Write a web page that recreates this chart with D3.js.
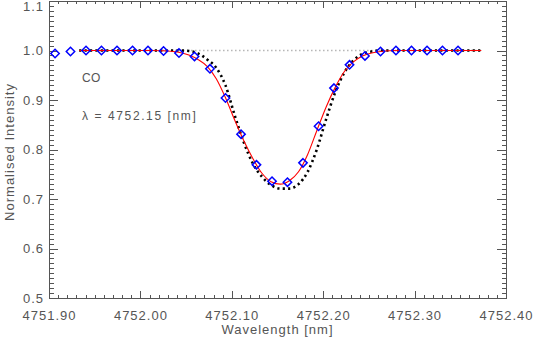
<!DOCTYPE html>
<html>
<head>
<meta charset="utf-8">
<script src="https://cdn.jsdelivr.net/npm/d3@7"></script>
<style>
body { margin: 0; background: #fff; }
svg { display: block; }
text { font-family: "Liberation Sans", Arial, sans-serif; fill: #555; }
</style>
</head>
<body>
<svg id="chart" width="534" height="340"></svg>
<script>
// observed points (blue diamonds)
var obsWave = [4751.9066, 4751.9235, 4751.9405, 4751.9574, 4751.9744, 4751.9914, 4752.0083,
    4752.0253, 4752.0422, 4752.0592, 4752.0761, 4752.0931, 4752.1101, 4752.1270, 4752.1440,
    4752.1609, 4752.1779, 4752.1949, 4752.2118, 4752.2288, 4752.2457, 4752.2627, 4752.2796,
    4752.2966, 4752.3136, 4752.3305, 4752.3475];
var obsInt = [0.994, 0.998, 1.000, 1.000, 1.000, 1.000, 1.000,
    0.999, 0.995, 0.988, 0.963, 0.904, 0.831, 0.769, 0.736,
    0.734, 0.773, 0.847, 0.924, 0.971, 0.989, 0.998, 1.000,
    1.000, 1.000, 1.000, 1.000];

// fitted profile (red) and model profile (black dotted)
var profWave = [4751.933, 4751.943, 4751.953, 4751.963, 4751.973, 4751.983, 4751.993, 4752.003,
    4752.013, 4752.023, 4752.033, 4752.043, 4752.053, 4752.063, 4752.073, 4752.083,
    4752.093, 4752.103, 4752.113, 4752.123, 4752.133, 4752.143, 4752.153, 4752.163,
    4752.173, 4752.183, 4752.193, 4752.203, 4752.213, 4752.223, 4752.233, 4752.243,
    4752.253, 4752.263, 4752.273, 4752.283, 4752.293, 4752.303, 4752.313, 4752.323,
    4752.333, 4752.343, 4752.353, 4752.363, 4752.373];
var fitInt = [1.000, 1.000, 1.000, 1.000, 1.000, 1.000, 1.000, 1.000,
    1.000, 0.9995, 0.9985, 0.996, 0.991, 0.982, 0.968, 0.943,
    0.905, 0.860, 0.818, 0.782, 0.752, 0.735, 0.730, 0.737,
    0.755, 0.790, 0.838, 0.885, 0.925, 0.957, 0.977, 0.989,
    0.995, 0.998, 0.9995, 1.000, 1.000, 1.000, 1.000, 1.000,
    1.000, 1.000, 1.000, 1.000, 1.000];
var modelInt = [1.000, 1.000, 1.000, 1.000, 1.000, 1.000, 1.000, 1.000,
    1.000, 1.000, 1.000, 1.000, 0.999, 0.994, 0.982, 0.965,
    0.930, 0.870, 0.815, 0.772, 0.745, 0.728, 0.721, 0.721,
    0.730, 0.755, 0.800, 0.860, 0.915, 0.955, 0.980, 0.993,
    0.998, 1.000, 1.000, 1.000, 1.000, 1.000, 1.000, 1.000,
    1.000, 1.000, 1.000, 1.000, 1.000];

var continuum = 1.0;
var labelLine = "CO";
var labelCentre = "λ = 4752.15 [nm]";

var svg = d3.select('#chart');
var plotLeft = 49, plotRight = 506, plotTop = 1, plotBottom = 298;
var axisColor = "#555";

var x = d3.scaleLinear().domain([4751.90, 4752.40]).range([plotLeft, plotRight]);
var y = d3.scaleLinear().domain([0.5, 1.1]).range([plotBottom, plotTop]);

// axes (IDL style box, inward ticks)
function styleAxis(g) {
    g.selectAll('path, line').attr('stroke', axisColor).attr('shape-rendering', 'crispEdges');
    g.selectAll('text').attr('fill', '#555').style('font-size', '13px')
        .style('letter-spacing', '1px').style('font-family', '"Liberation Sans", Arial, sans-serif');
}

svg.append('g').attr('transform', 'translate(0,' + plotBottom + ')')
    .call(d3.axisBottom(x).tickValues(x.ticks(50)).tickSize(-3).tickFormat('').tickSizeOuter(0))
    .call(styleAxis);
svg.append('g').attr('transform', 'translate(0,' + plotBottom + ')')
    .call(d3.axisBottom(x).ticks(5).tickSize(-7).tickFormat(d3.format('.2f')).tickSizeOuter(0))
    .call(styleAxis)
    .call(g => g.selectAll('text').attr('y', 13));

svg.append('g').attr('transform', 'translate(0,' + plotTop + ')')
    .call(d3.axisTop(x).tickValues(x.ticks(50)).tickSize(-3).tickFormat('').tickSizeOuter(0))
    .call(styleAxis);
svg.append('g').attr('transform', 'translate(0,' + plotTop + ')')
    .call(d3.axisTop(x).ticks(5).tickSize(-7).tickFormat('').tickSizeOuter(0))
    .call(styleAxis);

svg.append('g').attr('transform', 'translate(' + plotLeft + ',0)')
    .call(d3.axisLeft(y).tickValues(y.ticks(60)).tickSize(-4.5).tickFormat('').tickSizeOuter(0))
    .call(styleAxis);
svg.append('g').attr('transform', 'translate(' + plotLeft + ',0)')
    .call(d3.axisLeft(y).ticks(6).tickSize(-9).tickFormat(d3.format('.1f')).tickSizeOuter(0))
    .call(styleAxis)
    .call(g => g.selectAll('text').attr('x', -5)
        .attr('y', d => y(d) < 8 ? 6 - y(d) : 0));

svg.append('g').attr('transform', 'translate(' + plotRight + ',0)')
    .call(d3.axisRight(y).tickValues(y.ticks(60)).tickSize(-4.5).tickFormat('').tickSizeOuter(0))
    .call(styleAxis);
svg.append('g').attr('transform', 'translate(' + plotRight + ',0)')
    .call(d3.axisRight(y).ticks(6).tickSize(-9).tickFormat('').tickSizeOuter(0))
    .call(styleAxis);

// continuum
svg.append('line')
    .attr('x1', x(profWave[0])).attr('x2', x(profWave[profWave.length - 1]))
    .attr('y1', y(continuum)).attr('y2', y(continuum))
    .attr('stroke', '#aaa').attr('stroke-width', 1.3).attr('stroke-dasharray', '1.3,2.7');

var line = d3.line().curve(d3.curveMonotoneX);

// model (black dotted)
svg.append('path')
    .attr('d', line(profWave.map((w, i) => [x(w), y(modelInt[i])])))
    .attr('fill', 'none').attr('stroke', '#000').attr('stroke-width', 2.6)
    .attr('stroke-dasharray', '2.2,3.2');

// fit (red)
svg.append('path')
    .attr('d', line(profWave.map((w, i) => [x(w), y(fitInt[i])])))
    .attr('fill', 'none').attr('stroke', '#ff0000').attr('stroke-width', 1.1);

// observations
var r = 4.2;
svg.selectAll('.obs').data(obsWave).enter().append('path')
    .attr('class', 'obs')
    .attr('d', function (d, i) {
        var cx = x(d), cy = y(obsInt[i]);
        return 'M' + cx + ',' + (cy - r) + 'L' + (cx + r) + ',' + cy + 'L' + cx + ',' + (cy + r) + 'L' + (cx - r) + ',' + cy + 'Z';
    })
    .attr('fill', 'none').attr('stroke', '#0000ff').attr('stroke-width', 1.5);

// annotations
svg.append('text').attr('x', 82).attr('y', 82).style('font-size', '12px').style('letter-spacing', '0.3px').text(labelLine);
svg.append('text').attr('x', 82).attr('y', 120).style('font-size', '12px').style('letter-spacing', '1.6px')
    .attr('xml:space', 'preserve').text(labelCentre);

svg.append('text').attr('text-anchor', 'middle')
    .attr('transform', 'translate(' + ((plotLeft + plotRight) / 2) + ',334)')
    .style('font-size', '13px').style('letter-spacing', '1px')
    .text("Wavelength [nm]");
svg.append('text').attr('text-anchor', 'middle')
    .attr('transform', 'translate(14,152)rotate(-90)')
    .style('font-size', '13px').style('letter-spacing', '1px')
    .text("Normalised Intensity");
</script>
</body>
</html>
